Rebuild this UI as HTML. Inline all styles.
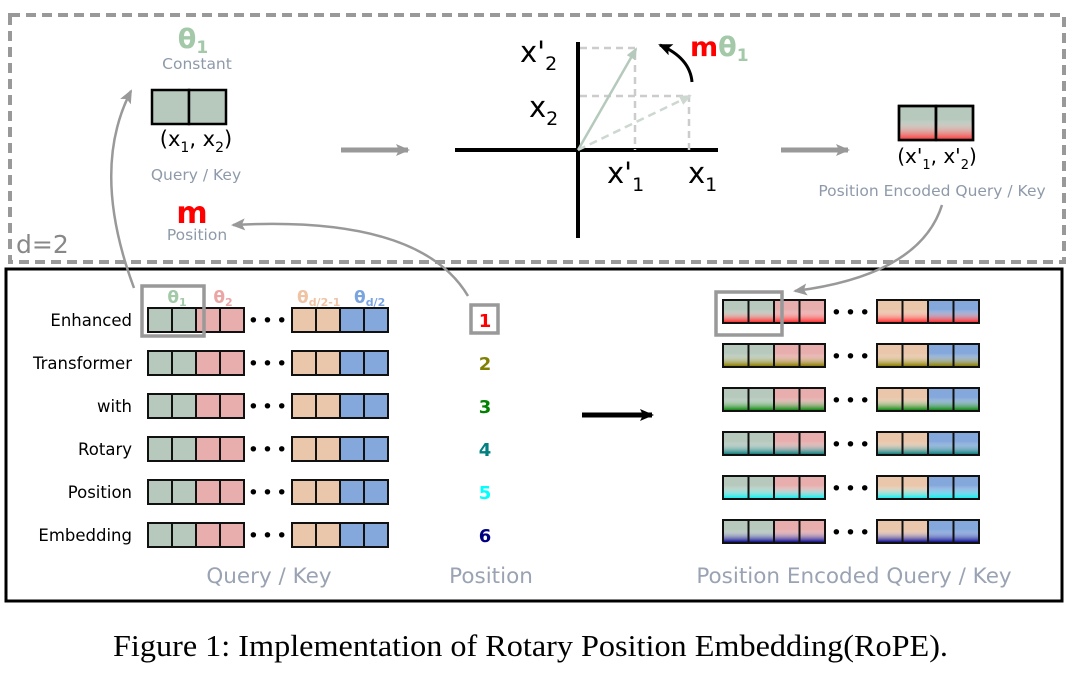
<!DOCTYPE html>
<html><head><meta charset="utf-8"><style>
body{margin:0;background:#fff;}
svg{display:block;font-family:"DejaVu Sans","Liberation Sans",sans-serif;}
</style></head><body>
<svg width="1080" height="683" viewBox="0 0 1080 683" xmlns="http://www.w3.org/2000/svg">
<defs>
<marker id="gb" markerWidth="14" markerHeight="12" refX="12" refY="6" orient="auto" markerUnits="userSpaceOnUse"><path d="M0,0 L14,6 L0,12 L3,6 Z" fill="#999"/></marker>
<marker id="gv" markerWidth="12" markerHeight="10" refX="10" refY="5" orient="auto" markerUnits="userSpaceOnUse"><path d="M0,0 L12,5 L0,10 Z" fill="#b5c9bc"/></marker>
<marker id="gv2" markerWidth="12" markerHeight="10" refX="10" refY="5" orient="auto" markerUnits="userSpaceOnUse"><path d="M0,0 L12,5 L0,10 Z" fill="#cdd8d0"/></marker>
<marker id="ka" markerWidth="14" markerHeight="12" refX="12" refY="6" orient="auto" markerUnits="userSpaceOnUse"><path d="M0,0 L14,6 L0,12 L3,6 Z" fill="#000"/></marker>
<linearGradient id="c1" x1="0" y1="0" x2="0" y2="1"><stop offset="0.4" stop-color="#fff" stop-opacity="0"/><stop offset="1" stop-color="#ff3030"/></linearGradient>
<linearGradient id="c2" x1="0" y1="0" x2="0" y2="1"><stop offset="0.4" stop-color="#fff" stop-opacity="0"/><stop offset="1" stop-color="#8a7d00"/></linearGradient>
<linearGradient id="c3" x1="0" y1="0" x2="0" y2="1"><stop offset="0.4" stop-color="#fff" stop-opacity="0"/><stop offset="1" stop-color="#118811"/></linearGradient>
<linearGradient id="c4" x1="0" y1="0" x2="0" y2="1"><stop offset="0.4" stop-color="#fff" stop-opacity="0"/><stop offset="1" stop-color="#117f7f"/></linearGradient>
<linearGradient id="c5" x1="0" y1="0" x2="0" y2="1"><stop offset="0.4" stop-color="#fff" stop-opacity="0"/><stop offset="1" stop-color="#11f0f0"/></linearGradient>
<linearGradient id="c6" x1="0" y1="0" x2="0" y2="1"><stop offset="0.4" stop-color="#fff" stop-opacity="0"/><stop offset="1" stop-color="#101090"/></linearGradient>
</defs>

<rect x="10" y="15" width="1054" height="247" fill="none" stroke="#999" stroke-width="4" stroke-dasharray="10,6"/>
<text x="16" y="253" font-size="25" fill="#888">d=2</text>
<rect x="6" y="269" width="1056" height="332" fill="none" stroke="#000" stroke-width="3"/>

<text x="193" y="48" font-size="27" font-weight="bold" fill="#a3c9a8" text-anchor="middle">θ<tspan font-size="17" dy="5">1</tspan></text>
<text x="197" y="69" font-size="15.5" fill="#8e9aaa" text-anchor="middle">Constant</text>
<rect x="152" y="90" width="37" height="34" fill="#b7c9bd" stroke="#000" stroke-width="2.5"/>
<rect x="189" y="90" width="37" height="34" fill="#b7c9bd" stroke="#000" stroke-width="2.5"/>
<text x="196" y="146" font-size="21" fill="#000" text-anchor="middle">(x<tspan font-size="14" dy="6">1</tspan><tspan dy="-6">, x</tspan><tspan font-size="14" dy="6">2</tspan><tspan dy="-6">)</tspan></text>
<text x="196" y="180" font-size="15.5" fill="#8e9aaa" text-anchor="middle">Query / Key</text>
<text x="192" y="223" font-size="30" font-weight="bold" fill="#ff0000" text-anchor="middle">m</text>
<text x="197" y="240" font-size="15.5" fill="#8e9aaa" text-anchor="middle">Position</text>
<line x1="341" y1="150" x2="408" y2="150" stroke="#999" stroke-width="5" marker-end="url(#gb)"/>

<line x1="455" y1="150" x2="718" y2="150" stroke="#000" stroke-width="4"/>
<line x1="578" y1="42" x2="578" y2="238" stroke="#000" stroke-width="4"/>
<path d="M580,48 H635 V150 M580,96 H689 V150" fill="none" stroke="#ccc" stroke-width="2.5" stroke-dasharray="7,5"/>
<line x1="578" y1="150" x2="636" y2="49" stroke="#b5c9bc" stroke-width="2.5" marker-end="url(#gv)"/>
<line x1="578" y1="150" x2="690" y2="96" stroke="#cdd8d0" stroke-width="2.5" stroke-dasharray="8,5" marker-end="url(#gv2)"/>
<path d="M692,82 Q690,58 660,45" fill="none" stroke="#000" stroke-width="3" marker-end="url(#ka)"/>
<text x="690" y="56" font-size="27" font-weight="bold" fill="#ff0000">m<tspan fill="#a3c9a8">θ<tspan font-size="17" dy="5">1</tspan></tspan></text>
<text x="520" y="62" font-size="29" fill="#000">x'<tspan font-size="19" dy="8">2</tspan></text>
<text x="529" y="117" font-size="29" fill="#000">x<tspan font-size="19" dy="8">2</tspan></text>
<text x="607" y="183" font-size="29" fill="#000">x'<tspan font-size="19" dy="8">1</tspan></text>
<text x="688" y="183" font-size="29" fill="#000">x<tspan font-size="19" dy="8">1</tspan></text>
<line x1="781" y1="150" x2="848" y2="150" stroke="#999" stroke-width="5" marker-end="url(#gb)"/>
<rect x="899" y="106" width="37" height="34" fill="#b7c9bd" stroke="#000" stroke-width="2.5"/>
<rect x="899" y="106" width="37" height="34" fill="url(#c1)"/>
<rect x="936" y="106" width="37" height="34" fill="#b7c9bd" stroke="#000" stroke-width="2.5"/>
<rect x="936" y="106" width="37" height="34" fill="url(#c1)"/>
<rect x="899" y="106" width="74" height="34" fill="none" stroke="#000" stroke-width="2.5"/>
<line x1="936" y1="106" x2="936" y2="140" stroke="#000" stroke-width="2.5"/>
<text x="937" y="163" font-size="20" fill="#000" text-anchor="middle">(x'<tspan font-size="13" dy="6">1</tspan><tspan dy="-6">, x'</tspan><tspan font-size="13" dy="6">2</tspan><tspan dy="-6">)</tspan></text>
<text x="932" y="196" font-size="15.5" fill="#8e9aaa" text-anchor="middle">Position Encoded Query / Key</text>

<path d="M134,288 Q90,170 131,91" fill="none" stroke="#999" stroke-width="2.5" marker-end="url(#gb)"/>
<path d="M468,296 Q420,215 233,225" fill="none" stroke="#999" stroke-width="2.5" marker-end="url(#gb)"/>
<path d="M942,205 Q920,275 795,291" fill="none" stroke="#999" stroke-width="2.5" marker-end="url(#gb)"/>

<text x="177" y="303" font-size="17" font-weight="bold" fill="#a3c9a8" text-anchor="middle">θ<tspan font-size="11" dy="3">1</tspan></text>
<text x="223" y="303" font-size="17" font-weight="bold" fill="#eba5a5" text-anchor="middle">θ<tspan font-size="11" dy="3">2</tspan></text>
<text x="297" y="303" font-size="17" font-weight="bold" fill="#f0c3a3">θ<tspan font-size="11" dy="3">d/2-1</tspan></text>
<text x="354" y="303" font-size="17" font-weight="bold" fill="#7aa4e0">θ<tspan font-size="11" dy="3">d/2</tspan></text>

<g font-size="16.5" fill="#000" text-anchor="end">
<text x="132" y="326">Enhanced</text>
<text x="132" y="369">Transformer</text>
<text x="132" y="412">with</text>
<text x="132" y="455">Rotary</text>
<text x="132" y="498">Position</text>
<text x="132" y="541">Embedding</text>
</g>

<g stroke="#111" stroke-width="2">
<g id="L0">
<rect x="148" y="308" width="24" height="24" fill="#b7c9bd"/><rect x="172" y="308" width="24" height="24" fill="#b7c9bd"/><rect x="196" y="308" width="24" height="24" fill="#e8aeae"/><rect x="220" y="308" width="24" height="24" fill="#e8aeae"/>
<rect x="292" y="308" width="24" height="24" fill="#eac6ab"/><rect x="316" y="308" width="24" height="24" fill="#eac6ab"/><rect x="340" y="308" width="24" height="24" fill="#85a8dc"/><rect x="364" y="308" width="24" height="24" fill="#85a8dc"/>
</g>
<use href="#L0" y="43"/><use href="#L0" y="86"/><use href="#L0" y="129"/><use href="#L0" y="172"/><use href="#L0" y="215"/>
</g>
<g fill="#000" font-size="19" text-anchor="middle" letter-spacing="3">
<text x="269" y="327">•••</text>
<text x="269" y="370">•••</text>
<text x="269" y="413">•••</text>
<text x="269" y="456">•••</text>
<text x="269" y="499">•••</text>
<text x="269" y="542">•••</text>
</g>
<rect x="142" y="286" width="62" height="50" fill="none" stroke="#999" stroke-width="3.5"/>

<rect x="471" y="305" width="27" height="28" fill="none" stroke="#999" stroke-width="3.5"/>
<g font-size="18" font-weight="bold" text-anchor="middle">
<text x="485" y="327" fill="#ff0000">1</text>
<text x="485" y="370" fill="#808000">2</text>
<text x="485" y="413" fill="#008000">3</text>
<text x="485" y="456" fill="#008080">4</text>
<text x="485" y="499" fill="#00ffff">5</text>
<text x="485" y="542" fill="#000080">6</text>
</g>

<line x1="582" y1="415" x2="652" y2="415" stroke="#000" stroke-width="5" marker-end="url(#ka)"/>

<g stroke="#111" stroke-width="2">
<g id="R0">
<rect x="723" y="300" width="25.5" height="23" fill="#b7c9bd"/><rect x="748.5" y="300" width="25.5" height="23" fill="#b7c9bd"/><rect x="774" y="300" width="25.5" height="23" fill="#e8aeae"/><rect x="799.5" y="300" width="25.5" height="23" fill="#e8aeae"/>
<rect x="877" y="300" width="25.5" height="23" fill="#eac6ab"/><rect x="902.5" y="300" width="25.5" height="23" fill="#eac6ab"/><rect x="928" y="300" width="25.5" height="23" fill="#85a8dc"/><rect x="953.5" y="300" width="25.5" height="23" fill="#85a8dc"/>
</g>
<use href="#R0" y="44"/><use href="#R0" y="88"/><use href="#R0" y="132"/><use href="#R0" y="176"/><use href="#R0" y="220"/>
</g>
<rect x="724" y="301" width="100" height="21" fill="url(#c1)"/><rect x="878" y="301" width="100" height="21" fill="url(#c1)"/>
<rect x="724" y="345" width="100" height="21" fill="url(#c2)"/><rect x="878" y="345" width="100" height="21" fill="url(#c2)"/>
<rect x="724" y="389" width="100" height="21" fill="url(#c3)"/><rect x="878" y="389" width="100" height="21" fill="url(#c3)"/>
<rect x="724" y="433" width="100" height="21" fill="url(#c4)"/><rect x="878" y="433" width="100" height="21" fill="url(#c4)"/>
<rect x="724" y="477" width="100" height="21" fill="url(#c5)"/><rect x="878" y="477" width="100" height="21" fill="url(#c5)"/>
<rect x="724" y="521" width="100" height="21" fill="url(#c6)"/><rect x="878" y="521" width="100" height="21" fill="url(#c6)"/>
<path d="M748.5,300v243M774,300v243M799.5,300v243M902.5,300v243M928,300v243M953.5,300v243" fill="none" stroke="#111" stroke-width="2" stroke-dasharray="23,21"/>
<g fill="#000" font-size="19" text-anchor="middle" letter-spacing="3">
<text x="852" y="319">•••</text>
<text x="852" y="363">•••</text>
<text x="852" y="407">•••</text>
<text x="852" y="451">•••</text>
<text x="852" y="495">•••</text>
<text x="852" y="539">•••</text>
</g>
<rect x="716" y="292" width="66" height="43" fill="none" stroke="#999" stroke-width="3.5"/>

<g font-size="21.5" fill="#9aa3b3" text-anchor="middle">
<text x="269" y="583">Query / Key</text>
<text x="491" y="583">Position</text>
<text x="854" y="583">Position Encoded Query / Key</text>
</g>

<text x="113" y="656" font-size="31" font-family="Liberation Serif, serif" fill="#000" textLength="835" lengthAdjust="spacingAndGlyphs">Figure 1: Implementation of Rotary Position Embedding(RoPE).</text>
</svg>
</body></html>
